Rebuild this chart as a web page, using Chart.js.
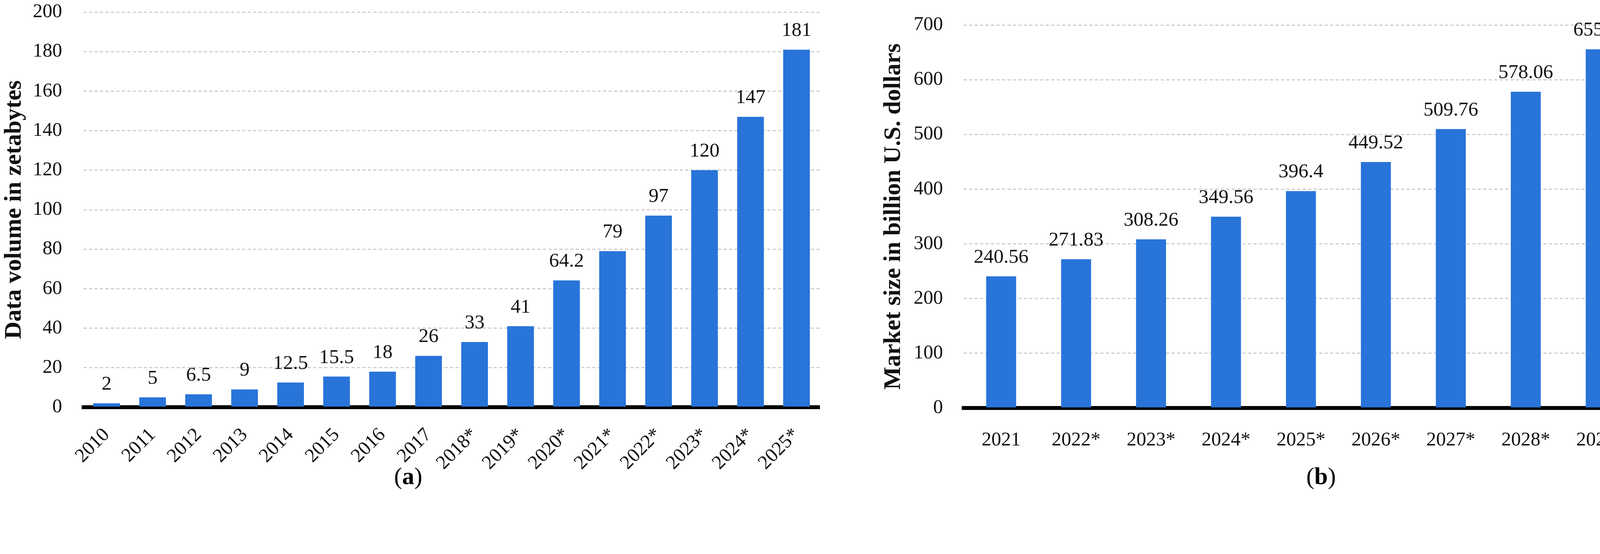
<!DOCTYPE html>
<html>
<head>
<meta charset="utf-8">
<script src="https://cdn.jsdelivr.net/npm/chart.js@4.4.1/dist/chart.umd.min.js"></script>
<style>
  html, body { margin: 0; padding: 0; background: #fff; }
  #wrap { position: relative; width: 4206px; height: 1419px; overflow: hidden; }
  canvas { position: absolute; top: 0; }
  .cap { position: absolute; font-family: "Liberation Serif", serif; font-size: 62px; line-height: 70px; color: #000; transform: translateX(-50%); }
</style>
</head>
<body>
<div id="wrap">
  <canvas id="chartA" width="2150" height="1419" style="left:0"></canvas>
  <canvas id="chartB" width="2056" height="1419" style="left:2150px"></canvas>
  <div class="cap" style="left:1045px; top:1184px">(<b>a</b>)</div>
  <div class="cap" style="left:3382px; top:1184px">(<b>b</b>)</div>
</div>
<script>
// (a) data volume
let years_a = ['2010', '2011', '2012', '2013', '2014', '2015', '2016', '2017', '2018*', '2019*', '2020*', '2021*', '2022*', '2023*', '2024*', '2025*'];
let volume_a = [2, 5, 6.5, 9, 12.5, 15.5, 18, 26, 33, 41, 64.2, 79, 97, 120, 147, 181];
let ticks_a = [0, 20, 40, 60, 80, 100, 120, 140, 160, 180, 200];

// (b) market size
let years_b = ['2021', '2022*', '2023*', '2024*', '2025*', '2026*', '2027*', '2028*', '2029*'];
let market_b = [240.56, 271.83, 308.26, 349.56, 396.4, 449.52, 509.76, 578.06, 655.53];
let ticks_b = [0, 100, 200, 300, 400, 500, 600, 700];

const blue = '#2874d9';
const serif = "'Liberation Serif', 'Times New Roman', serif";

// value above each bar
const valueLabels = {
    id: 'valueLabels',
    afterDatasetsDraw(chart) {
        const ctx = chart.ctx;
        const meta = chart.getDatasetMeta(0);
        const vals = chart.data.datasets[0].data;
        ctx.save();
        ctx.font = `51px ${serif}`;
        ctx.fillStyle = '#111';
        ctx.textAlign = 'center';
        ctx.textBaseline = 'alphabetic';
        meta.data.forEach((bar, i) => {
            ctx.fillText(String(vals[i]), bar.x, bar.y - 35);
        });
        ctx.restore();
    }
};

function make_chart(id, labels, values, ticks, opt) {
    const ctx = document.getElementById(id);
    return new Chart(ctx, {
        type: 'bar',
        data: {
            labels: labels,
            datasets: [{
                data: values,
                backgroundColor: blue,
                borderWidth: 0,
                categoryPercentage: 1,
                barPercentage: opt.barPct,
            }]
        },
        plugins: [valueLabels],
        options: {
            responsive: false,
            animation: false,
            devicePixelRatio: 1,
            layout: { padding: { top: opt.top, right: opt.right, left: 0, bottom: 0 } },
            plugins: { legend: { display: false }, tooltip: { enabled: false } },
            scales: {
                x: {
                    grid: { display: false },
                    border: { display: true, color: '#000', width: 10 },
                    ticks: {
                        color: '#111',
                        font: { family: serif, size: 50 },
                        maxRotation: opt.rot,
                        minRotation: opt.rot,
                        padding: opt.xPad,
                        autoSkip: false,
                    },
                    afterFit: (s) => { s.height = 1419 - opt.bottom; }
                },
                y: {
                    min: 0,
                    max: ticks[ticks.length - 1],
                    afterBuildTicks: (s) => { s.ticks = ticks.map(v => ({ value: v })); },
                    grid: { color: '#cdcdcd', lineWidth: 3, drawTicks: false },
                    border: { display: false, dash: [8, 6] },
                    ticks: {
                        color: '#111',
                        font: { family: serif, size: 50 },
                        padding: opt.yPad,
                    },
                    title: {
                        display: true,
                        text: opt.title,
                        color: '#111',
                        font: { family: serif, size: 62, weight: 'bold' },
                        padding: { top: opt.titlePad, bottom: 0 }
                    },
                    afterFit: (s) => {
                        s.width = opt.axisW;
                        // tick padding would otherwise push the plot top down
                        s.paddingTop = 0;
                        s.paddingBottom = 0;
                    }
                }
            }
        }
    });
}

make_chart('chartA', years_a, volume_a, ticks_a, {
    barPct: 0.58, top: 31, right: 52, bottom: 1043, rot: 45, xPad: 34,
    yPad: 55, axisW: 214, titlePad: 0, title: 'Data volume in zetabytes'
});
make_chart('chartB', years_b, market_b, ticks_b, {
    barPct: 0.40, top: 64, right: 12, bottom: 1045, rot: 0, xPad: 45,
    yPad: 53, axisW: 317, titlePad: 101, title: 'Market size in billion U.S. dollars'
});
</script>
</body>
</html>
